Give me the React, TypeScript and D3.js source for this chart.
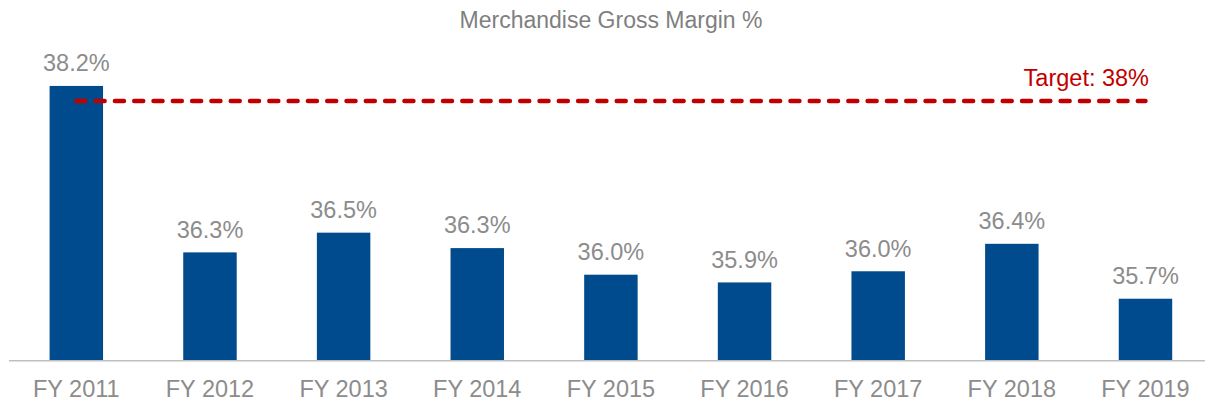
import React from "react";
import * as d3 from "d3";

const categories: string[] = ["FY 2011", "FY 2012", "FY 2013", "FY 2014", "FY 2015", "FY 2016", "FY 2017", "FY 2018", "FY 2019"];
const values: number[] = [38.2, 36.26, 36.49, 36.31, 36.0, 35.91, 36.04, 36.36, 35.72];
const valueLabels: string[] = ["38.2%", "36.3%", "36.5%", "36.3%", "36.0%", "35.9%", "36.0%", "36.4%", "35.7%"];
const targetValue = 38;
const targetLabel = "Target: 38%";
const title = "Merchandise Gross Margin %";

const W = 1205;
const H = 402;
const FONT = "'Liberation Sans', Arial, sans-serif";

export default function App() {
  const x = d3.scaleBand<string>().domain(categories).range([9.5, 1212.3]).paddingInner(0.6).paddingOuter(0.3);
  const y = d3.scaleLinear().domain([35, 38.5]).range([360.5, 60.2]);
  const bw = x.bandwidth();
  const x0 = (x(categories[0]) ?? 0) + bw / 2;
  const x1 = (x(categories[categories.length - 1]) ?? 0) + bw / 2;
  const yT = y(targetValue) - 2;

  return (
    <svg width={W} height={H} style={{ position: "absolute", left: 0, top: 0, background: "#fff" }}>
      <text x={611} y={27.5} textAnchor="middle" fontFamily={FONT} fontSize={23} fill="#7f7f7f">
        {title}
      </text>
      {categories.map((c, i) => (
        <g key={c}>
          <rect x={x(c)} y={y(values[i])} width={bw} height={y(35) - y(values[i])} fill="#004B8D" />
          <text
            x={(x(c) ?? 0) + bw / 2}
            y={y(values[i]) - 14.7}
            textAnchor="middle"
            fontFamily={FONT}
            fontSize={23.5}
            fill="#8c8c8c"
          >
            {valueLabels[i]}
          </text>
          <text
            x={(x(c) ?? 0) + bw / 2}
            y={396.5}
            textAnchor="middle"
            fontFamily={FONT}
            fontSize={23.5}
            fill="#8c8c8c"
          >
            {c}
          </text>
        </g>
      ))}
      <line x1={9} x2={1205} y1={360.8} y2={360.8} stroke="#bfbfbf" strokeWidth={1.5} />
      <line
        x1={x0}
        x2={x1}
        y1={yT}
        y2={yT}
        stroke="#C00000"
        strokeWidth={4.5}
        strokeDasharray="9 10.3"
        strokeLinecap="round"
      />
      <text x={1149} y={86} textAnchor="end" fontFamily={FONT} fontSize={23.5} fill="#C00000">
        {targetLabel}
      </text>
    </svg>
  );
}
